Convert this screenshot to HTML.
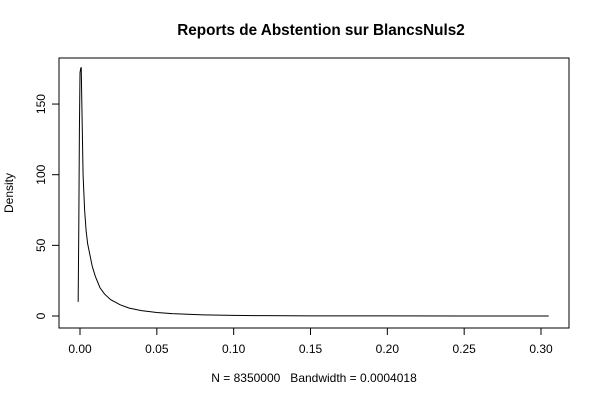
<!DOCTYPE html>
<html><head><meta charset="utf-8"><style>
body{margin:0;background:#fff;font-family:"Liberation Sans",sans-serif}
</style></head><body>
<svg id="c" width="600" height="400" xmlns="http://www.w3.org/2000/svg"></svg>
<script>
const xs=[-0.0012,-0.0008,-0.0004,0,0.0004,0.0008,0.0012,0.002,0.003,0.004,0.005,0.0065,0.008,0.01,0.013,0.016,0.02,0.026,0.032,0.04,0.05,0.06,0.07,0.08,0.1,0.12,0.15,0.2,0.25,0.305];
const ys=[10,60,130,172,175,176,150,100,75,60,51,43,35,28,20,15.5,11.5,8,5.6,3.8,2.5,1.7,1.2,0.8,0.4,0.25,0.12,0.05,0.02,0.01];
const xTicks=[0,0.05,0.1,0.15,0.2,0.25,0.3];
const xTickLabels=["0.00","0.05","0.10","0.15","0.20","0.25","0.30"];
const yTicks=[0,50,100,150];
const svg=document.getElementById('c');
const X=v=>80+v*1536.7, Y=v=>316-v*1.413;
function el(t,a,txt){const e=document.createElementNS('http://www.w3.org/2000/svg',t);for(const k in a)e.setAttribute(k,a[k]);if(txt!==undefined)e.textContent=txt;svg.appendChild(e);return e;}
let e;
e=el('rect',{x:59,y:58,width:510,height:270,fill:'none',stroke:'#000'});


e=el('line',{x1:X(0),x2:X(0.3),y1:328,y2:328,stroke:'#000'});


xTicks.forEach((t,i)=>{
 e=el('line',{x1:X(t),x2:X(t),y1:328,y2:335,stroke:'#000'});
 
 
 e=el('text',{x:X(t),y:353,'font-size':12,'text-anchor':'middle'},xTickLabels[i]);
 
 
});
e=el('line',{x1:59,x2:59,y1:Y(0),y2:Y(150),stroke:'#000'});


yTicks.forEach(t=>{
 e=el('line',{x1:52,x2:59,y1:Y(t),y2:Y(t),stroke:'#000'});
 
 
 e=el('text',{x:0,y:0,'font-size':12,'text-anchor':'middle',transform:`translate(45,${Y(t)}) rotate(-90)`},String(t));
 
 
});
e=el('polyline',{points:xs.map((x,i)=>X(x)+','+Y(ys[i])).join(' '),fill:'none',stroke:'#000','stroke-width':1});


e=el('text',{x:321,y:35,'font-size':15.3,'font-weight':'bold','text-anchor':'middle'},'Reports de Abstention sur BlancsNuls2');


e=el('text',{x:314,y:382,'font-size':12,'text-anchor':'middle',style:'white-space:pre'},'N = 8350000   Bandwidth = 0.0004018');


e=el('text',{x:0,y:0,'font-size':12,'text-anchor':'middle',transform:'translate(13,193) rotate(-90)'},'Density');


</script>
</body></html>
